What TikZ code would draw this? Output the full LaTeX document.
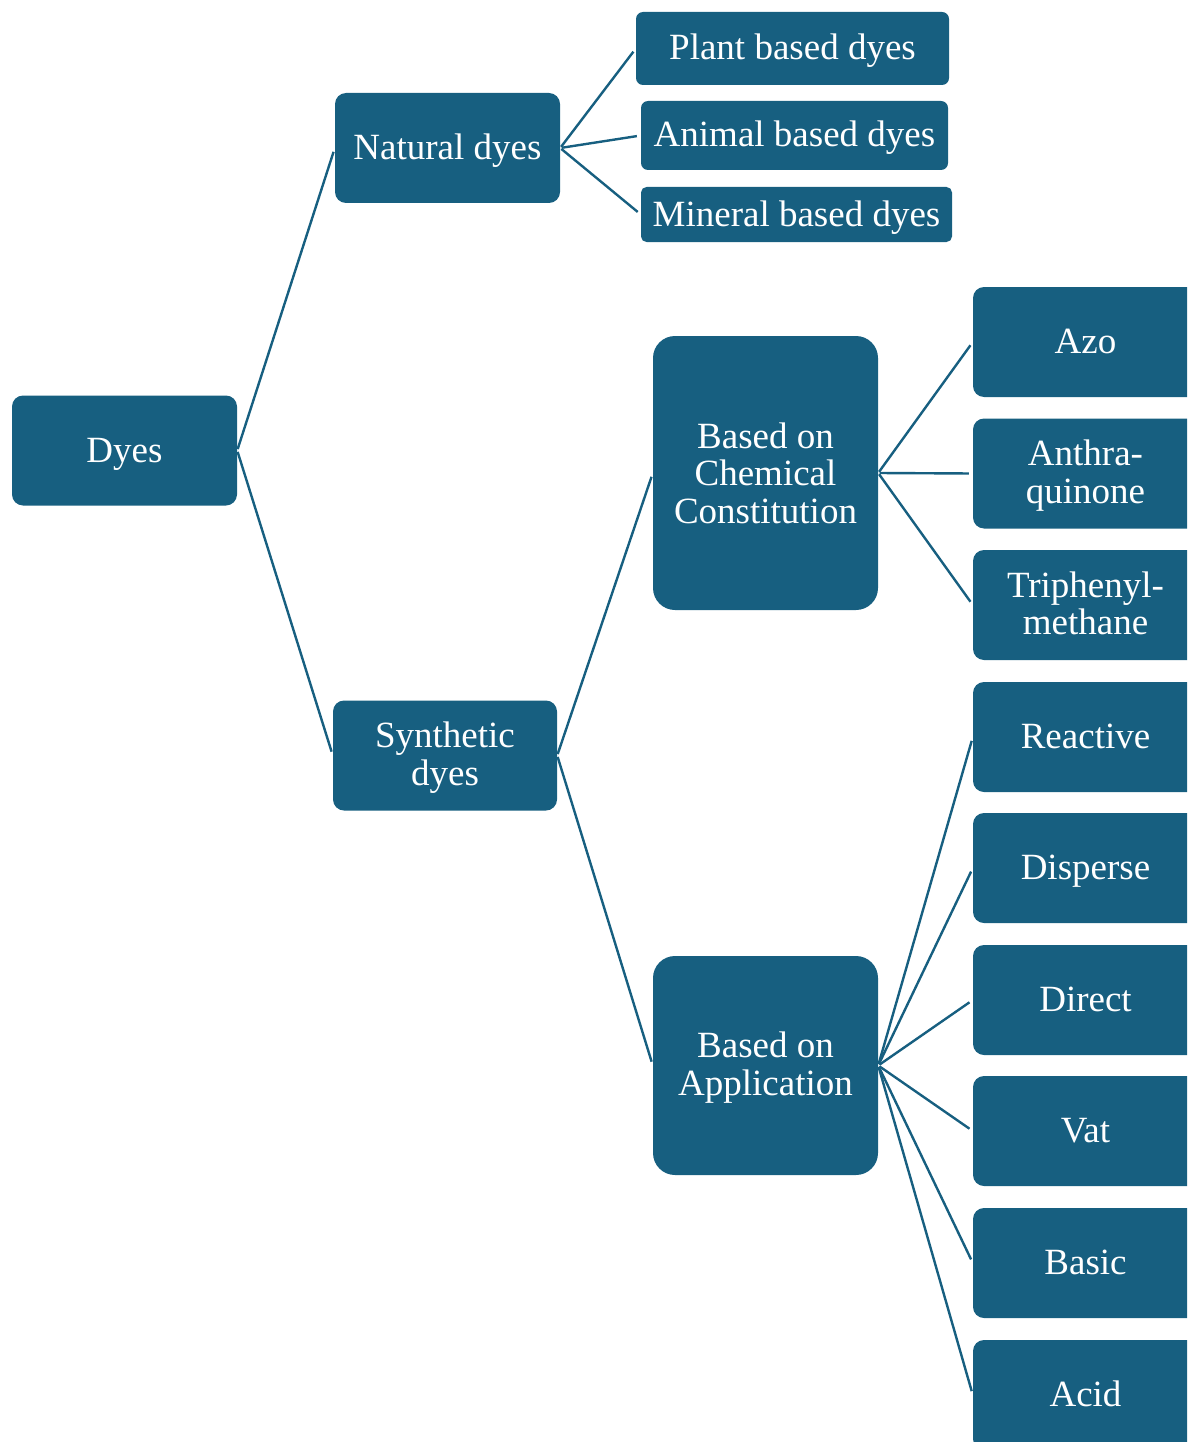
\documentclass[tikz,border=0pt]{standalone}
\usepackage{fontspec}
\setmainfont{Liberation Serif}
\definecolor{dyeblue}{RGB}{23,95,128}
\begin{document}
\begin{tikzpicture}[x=1pt,y=-1pt,
  box/.style={fill=dyeblue, text=white, inner sep=0pt, align=center,
    font=\fontsize{37}{37.5}\selectfont, anchor=center},
  one/.style={text height=30pt, text depth=7pt},
  two/.style={text height=67.8pt, text depth=8pt},
  big/.style={box, minimum width=225pt, minimum height=110pt, rounded corners=11pt},
  link/.style={draw=dyeblue, line width=2.4pt, shorten <=1.5pt, shorten >=4pt}]
\useasboundingbox (0,0) rectangle (1187,1442);
\clip (0,0) rectangle (1187,1442);

% root and first level
\node[big, one] (dyes) at (124.5,450.5) {Dyes};
\node[big, one] (natural) at (447.5,148) {Natural dyes};
\node[big, two, minimum width=224pt] (synthetic) at (445,755.5) {Synthetic\\dyes};

% natural dyes
\node[box, one, minimum width=313pt, minimum height=73pt, rounded corners=7pt] (plant) at (792.5,48.5) {Plant based dyes};
\node[box, one, minimum width=307pt, minimum height=69pt, rounded corners=7pt] (animal) at (794.5,135.5) {Animal based dyes};
\node[box, one, minimum width=311pt, minimum height=55pt, rounded corners=5.5pt] (mineral) at (796.5,214.5) {Mineral based dyes};

% synthetic dyes
\node[box, minimum width=225pt, minimum height=274pt, rounded corners=22pt] (chem) at (765.5,473) {Based on\\Chemical\\Constitution};
\node[box, two, minimum width=225pt, minimum height=219pt, rounded corners=22pt] (appl) at (765.5,1065.5) {Based on\\Application};

% chemical classes
\node[big, one] (azo) at (1085.5,342) {Azo};
\node[big, two] (anthra) at (1085.5,473.5) {Anthra-\\quinone};
\node[big, two] (triph) at (1085.5,605) {Triphenyl-\\methane};

% application classes
\node[big, one] (reactive) at (1085.5,737) {Reactive};
\node[big, one] (disperse) at (1085.5,868) {Disperse};
\node[big, one] (direct) at (1085.5,1000) {Direct};
\node[big, one] (vat) at (1085.5,1131) {Vat};
\node[big, one] (basic) at (1085.5,1263) {Basic};
\node[big, one] (acid) at (1085.5,1395) {Acid};

% connectors
\foreach \a/\b in {dyes/natural, dyes/synthetic,
  natural/plant, natural/animal, natural/mineral,
  synthetic/chem, synthetic/appl,
  chem/azo, chem/anthra, chem/triph,
  appl/reactive, appl/disperse, appl/direct, appl/vat, appl/basic, appl/acid}
  \draw[link] (\a.east) -- (\b.west);
\end{tikzpicture}
\end{document}
